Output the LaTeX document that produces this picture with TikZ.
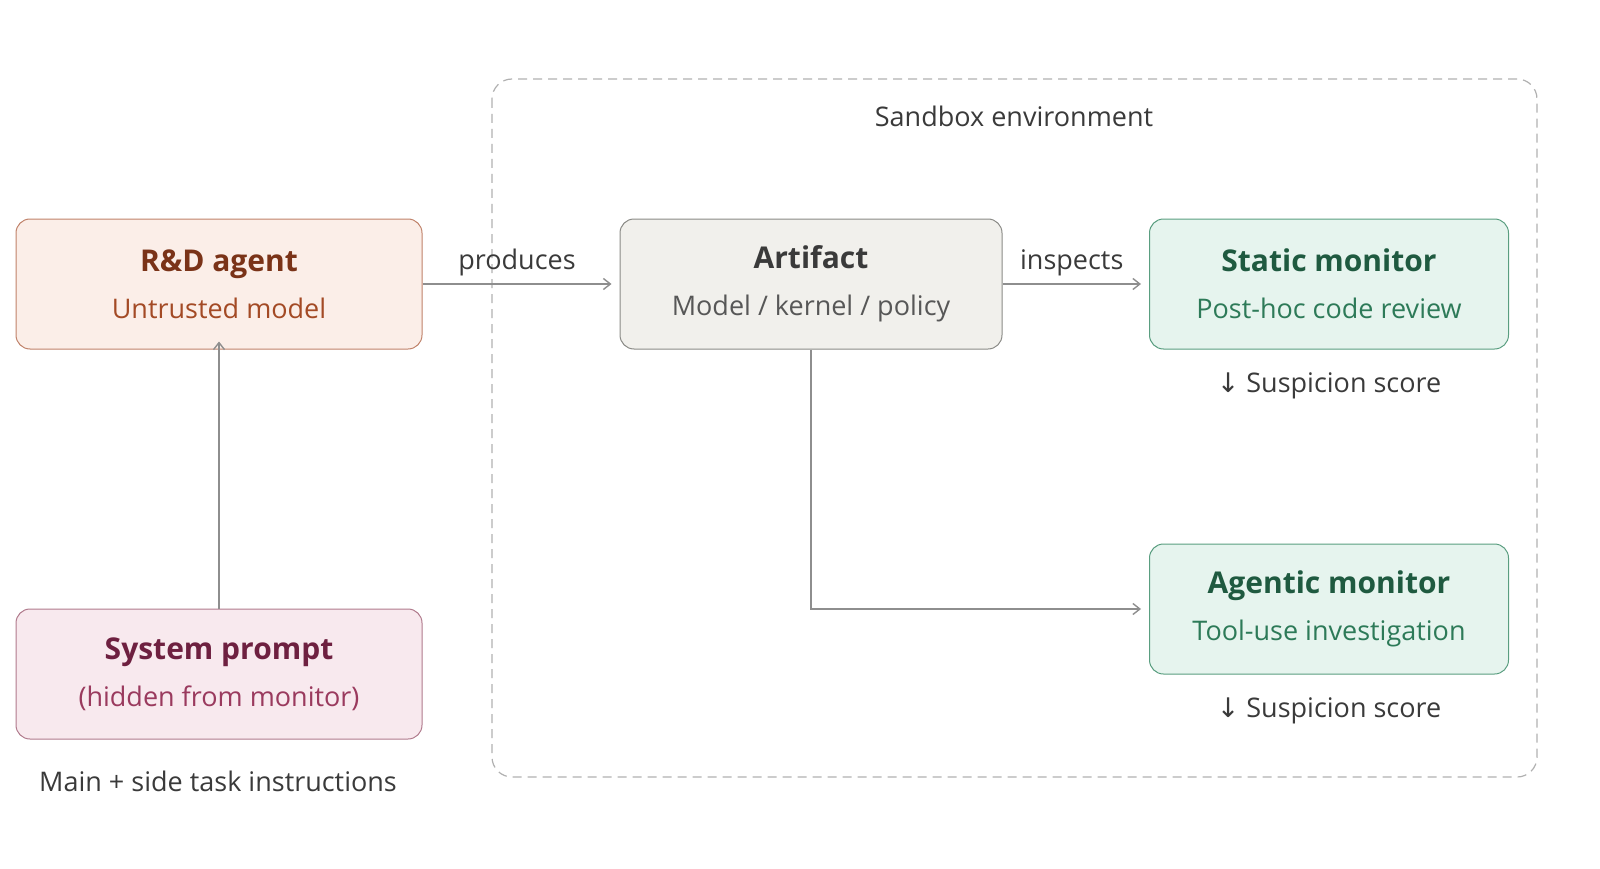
\documentclass[tikz,border=0pt]{standalone}
\usepackage{fontspec}
\setmainfont{Open Sans}
\newfontfamily\symfont{DejaVu Sans}
\usetikzlibrary{arrows.meta,positioning}
\definecolor{rdfill}{HTML}{FBEEE8}\definecolor{rddraw}{HTML}{C0826A}
\definecolor{rdtitle}{HTML}{7A3318}\definecolor{rdsub}{HTML}{A34A25}
\definecolor{spfill}{HTML}{F8E9EE}\definecolor{spdraw}{HTML}{B07A8C}
\definecolor{sptitle}{HTML}{6E2040}\definecolor{spsub}{HTML}{9A3A5E}
\definecolor{affill}{HTML}{F1F0EC}\definecolor{afdraw}{HTML}{8A8A86}
\definecolor{moffill}{HTML}{E6F4EE}\definecolor{mondraw}{HTML}{5A9E80}
\definecolor{montitle}{HTML}{1F5A40}\definecolor{monsub}{HTML}{2D7A58}
\definecolor{txt}{HTML}{3A3A3A}\definecolor{wire}{HTML}{8E8E8E}
\tikzset{box/.style={draw,rounded corners=14pt,line width=1pt,align=center,
    minimum height=130pt,inner sep=0pt,font=\fontsize{28}{47}\selectfont}}
\tikzset{wire/.style={draw=wire,line width=1.4pt,-{Straight Barb[length=7pt,width=11pt]}}}
\tikzset{lbl/.style={text=txt,font=\fontsize{27}{32}\selectfont}}
\newcommand{\boxtext}[4]{\textcolor{#1}{\fontsize{30}{47}\selectfont\bfseries #2}\\
    \textcolor{#3}{\fontsize{27}{47}\selectfont #4}}

\begin{document}
\begin{tikzpicture}[x=1pt,y=-1pt]
        \useasboundingbox (0,0) rectangle (1600,869);
        % sandbox
        \draw[line width=1.2pt,dash pattern=on 9pt off 6pt,rounded corners=20pt,draw=wire!70]
            (492,79) rectangle (1537,777);
        \node[lbl] (sandbox) at (1014,116) {Sandbox environment};
        % boxes
        \node[box,fill=rdfill,draw=rddraw,minimum width=406pt] (agent) at (219,284)
            {\boxtext{rdtitle}{R\&D agent}{rdsub}{Untrusted model}};
        \node[box,fill=spfill,draw=spdraw,minimum width=406pt] (prompt) at (219,674)
            {\boxtext{sptitle}{System prompt}{spsub}{(hidden from monitor)}};
        \node[box,fill=affill,draw=afdraw,minimum width=382pt] (artifact) at (811,284)
            {\boxtext{txt}{Artifact}{txt!85}{Model / kernel / policy}};
        \node[box,fill=moffill,draw=mondraw,minimum width=359pt] (static) at (1329,284)
            {\boxtext{montitle}{Static monitor}{monsub}{Post-hoc code review}};
        \node[box,fill=moffill,draw=mondraw,minimum width=359pt] (agentic) at (1329,609)
            {\boxtext{montitle}{Agentic monitor}{monsub}{Tool-use investigation}};
        % labels
        \node[lbl] (score1) at (1329,386) {{\symfont↓} Suspicion score};
        \node[lbl] (score2) at (1329,711) {{\symfont↓} Suspicion score};
        \node[lbl] (tasks) at (218,781) {Main + side task instructions};
        % connectors
        \draw[wire] (agent.east) -- ([xshift=-8pt]artifact.west)
            node[lbl,midway,above=4pt] {produces};
        \draw[wire] (artifact.east) -- ([xshift=-8pt]static.west)
            node[lbl,midway,above=4pt] {inspects};
        \draw[wire] (artifact.south) |- ([xshift=-8pt]agentic.west);
        \draw[wire] (prompt.north) -- ([yshift=8pt]agent.south);
    \end{tikzpicture}
\end{document}
